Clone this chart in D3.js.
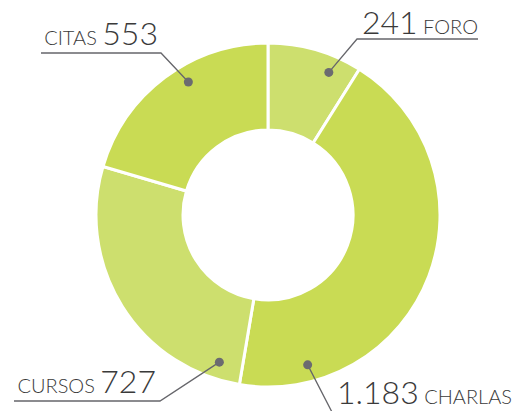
<!DOCTYPE html>
<html>
<head>
<meta charset="utf-8">
<script src="https://cdn.jsdelivr.net/npm/d3@7"></script>
<style>
  body { margin: 0; background: #fff; }
  text { font-family: "Lato", "Noto Sans", sans-serif; fill: #3a3a3a; }
</style>
</head>
<body>
<svg></svg>
<script>
var width = 517;
var height = 411;

// data
var categories = ["FORO", "CHARLAS", "CURSOS", "CITAS"];
var values = [241, 1183, 727, 553];
var valueLabels = ["241", "1.183", "727", "553"];
var colors = ["#cddf6e", "#c9db54", "#cddf6e", "#c9db54"];

// label layout (dot position inside slice, elbow, text anchor)
var layout = [
    { frac: 0.72, elbow: [357, 39], lineEnd: 478, tx: 362, ty: 34, side: "right" },
    { frac: 0.845, elbow: [334, 416], lineEnd: 510, tx: 337, ty: 404, side: "right" },
    { frac: 0.09, elbow: [160, 401], lineEnd: 14, tx: 156, ty: 393, side: "left" },
    { frac: 0.58, elbow: [161, 53], lineEnd: 41, tx: 158, ty: 45, side: "left" }
];

var cx = 268, cy = 215;
var outerR = 172, innerR = 85;

var svg = d3.select("svg")
    .attr("width", width)
    .attr("height", height);

var g = svg.append("g")
    .attr("transform", `translate(${cx}, ${cy})`);

var data = categories.map((c, i) => ({ cat: c, value: values[i], label: valueLabels[i] }));

var arcs = d3.pie()
    .sort(null)
    .value(d => d.value)(data);

var path = d3.arc()
    .outerRadius(outerR)
    .innerRadius(innerR);

g.selectAll(".arc")
    .data(arcs)
    .enter()
    .append("path")
        .classed("arc", true)
        .attr("fill", (d, i) => colors[i])
        .attr("stroke", "#fff")
        .attr("stroke-width", 3)
        .attr("d", path);

// leaders
var labels = svg.selectAll(".lbl")
    .data(arcs)
    .enter()
    .append("g")
        .classed("lbl", true);

function dotPos(d, i) {
    var a = d.startAngle + (d.endAngle - d.startAngle) * layout[i].frac;
    var p = d3.pointRadial(a, 155);
    return [cx + p[0], cy + p[1]];
}

labels.append("path")
    .attr("fill", "none")
    .attr("stroke", "#66666b")
    .attr("stroke-width", 1.3)
    .attr("d", (d, i) => {
        var p = dotPos(d, i), L = layout[i];
        return d3.line()([p, L.elbow, [L.lineEnd, L.elbow[1]]]);
    });

labels.append("circle")
    .attr("r", 4.5)
    .attr("fill", "#6b6b70")
    .attr("cx", (d, i) => dotPos(d, i)[0])
    .attr("cy", (d, i) => dotPos(d, i)[1]);

var txt = labels.append("text")
    .attr("x", (d, i) => layout[i].tx)
    .attr("y", (d, i) => layout[i].ty)
    .attr("text-anchor", (d, i) => layout[i].side === "left" ? "end" : "start");

txt.each(function(d, i) {
    var t = d3.select(this);
    var big = d.data.label, small = d.data.cat;
    if (layout[i].side === "left") {
        t.append("tspan").attr("font-size", 20).attr("font-weight", 300).text(small + " ");
        t.append("tspan").attr("font-size", 32).attr("font-weight", 300).text(big);
    } else {
        t.append("tspan").attr("font-size", 32).attr("font-weight", 300).text(big);
        t.append("tspan").attr("font-size", 20).attr("font-weight", 300).text(" " + small);
    }
});
</script>
</body>
</html>
